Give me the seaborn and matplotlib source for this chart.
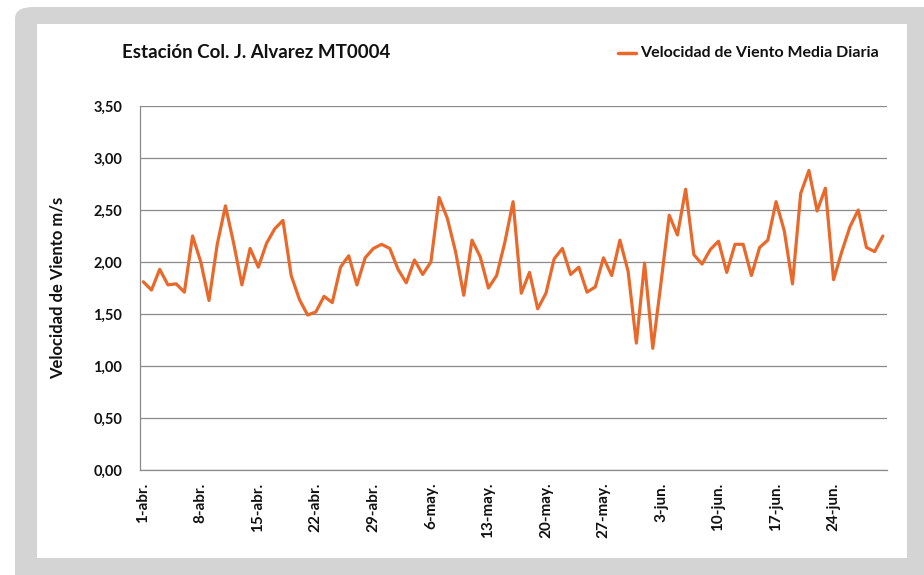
import numpy as np
import pandas as pd
import matplotlib
matplotlib.use("Agg")
import matplotlib.pyplot as plt
from matplotlib.patches import FancyBboxPatch
from matplotlib.lines import Line2D
import seaborn as sns

# ---- data ----
start_date = "2021-04-01"
velocidad = [
    1.81, 1.73, 1.93, 1.78, 1.79, 1.71, 2.25, 2.00, 1.63, 2.17,
    2.54, 2.18, 1.78, 2.13, 1.95, 2.18, 2.32, 2.40, 1.87, 1.64,
    1.49, 1.52, 1.67, 1.61, 1.95, 2.06, 1.78, 2.04, 2.13, 2.17,
    2.13, 1.93, 1.80, 2.02, 1.88, 2.00, 2.62, 2.42, 2.10, 1.68,
    2.21, 2.05, 1.75, 1.87, 2.19, 2.58, 1.70, 1.90, 1.55, 1.70,
    2.03, 2.13, 1.88, 1.95, 1.71, 1.76, 2.04, 1.87, 2.21, 1.91,
    1.22, 1.99, 1.17, 1.80, 2.45, 2.26, 2.70, 2.07, 1.98, 2.12,
    2.20, 1.90, 2.17, 2.17, 1.87, 2.14, 2.21, 2.58, 2.30, 1.79,
    2.66, 2.88, 2.49, 2.71, 1.83, 2.10, 2.34, 2.50, 2.14, 2.10,
    2.25,
]
tick_dates = ["2021-04-01", "2021-04-08", "2021-04-15", "2021-04-22", "2021-04-29",
              "2021-05-06", "2021-05-13", "2021-05-20", "2021-05-27", "2021-06-03",
              "2021-06-10", "2021-06-17", "2021-06-24"]
tick_labels = ["1-abr.", "8-abr.", "15-abr.", "22-abr.", "29-abr.", "6-may.", "13-may.",
               "20-may.", "27-may.", "3-jun.", "10-jun.", "17-jun.", "24-jun."]
y_ticks = [0.0, 0.5, 1.0, 1.5, 2.0, 2.5, 3.0, 3.5]
y_tick_labels = ["0,00", "0,50", "1,00", "1,50", "2,00", "2,50", "3,00", "3,50"]
series_name = "Velocidad de Viento Media Diaria"
title = "Estación Col. J. Alvarez MT0004"
y_label = "Velocidad de Viento m/s"

df = pd.DataFrame({
    "fecha": pd.date_range(start_date, periods=len(velocidad), freq="D"),
    "vel": velocidad,
})

sns.set_style("white")
plt.rcParams["font.family"] = ["Lato", "DejaVu Sans"]

W, H = 924, 575
fig = plt.figure(figsize=(W / 100, H / 100), dpi=100)
fig.patch.set_facecolor("white")

# gray rounded frame and white panel
bg = FancyBboxPatch((15 / W, -0.1), 1.1, 1.1 - 7 / H,
                    boxstyle="round,pad=0,rounding_size=0.02",
                    transform=fig.transFigure, facecolor="#d4d4d4",
                    edgecolor="none", zorder=-2)
fig.patches.append(bg)
panel = plt.Rectangle((37 / W, 1 - 558 / H), (907 - 37) / W, (558 - 24) / H,
                      transform=fig.transFigure, facecolor="white",
                      edgecolor="none", zorder=-1)
fig.patches.append(panel)

ax = fig.add_axes([139.5 / W, 1 - 470 / H, (887 - 139.5) / W, (470 - 106) / H])
ax.set_facecolor("none")
ax.set_zorder(1)

line_color = "#E9692B"
sns.lineplot(data=df, x="fecha", y="vel", ax=ax, color=line_color,
             linewidth=2.3, legend=False)

x0 = pd.Timestamp(start_date)
ax.set_xlim(x0 - pd.Timedelta(hours=11), x0 + pd.Timedelta(days=len(velocidad) - 1, hours=12))
ax.set_ylim(0, 3.5)

ax.set_yticks(y_ticks)
ax.set_yticklabels(y_tick_labels, fontsize=10.5, fontweight="bold", color="#111111")
ax.set_xticks(pd.to_datetime(tick_dates))
ax.set_xticklabels(tick_labels, rotation=90, fontsize=11, fontweight="bold",
                   color="#111111", va="top")
ax.tick_params(axis="both", length=0)
ax.tick_params(axis="y", pad=12.5)
ax.tick_params(axis="x", pad=9)

ax.grid(axis="y", color="#8a8a8a", linewidth=0.9)
ax.grid(axis="x", visible=False)
ax.set_axisbelow(True)
for s in ["top", "right"]:
    ax.spines[s].set_visible(False)
for s in ["left", "bottom"]:
    ax.spines[s].set_color("#8a8a8a")
    ax.spines[s].set_linewidth(0.9)

ax.set_xlabel("")
ax.set_ylabel(y_label, fontsize=12, fontweight="bold", color="#111111", labelpad=20)

fig.text(122 / W, 1 - 52 / H, title, fontsize=13.5, fontweight="bold",
         color="#111111", ha="left", va="center")
fig.add_artist(Line2D([618 / W, 636 / W], [1 - 53 / H, 1 - 53 / H],
                      color=line_color, linewidth=2.5, transform=fig.transFigure))
fig.text(640 / W, 1 - 53 / H, series_name, fontsize=11.5, fontweight="bold",
         color="#111111", ha="left", va="center")

fig.savefig("out.png", dpi=100)
